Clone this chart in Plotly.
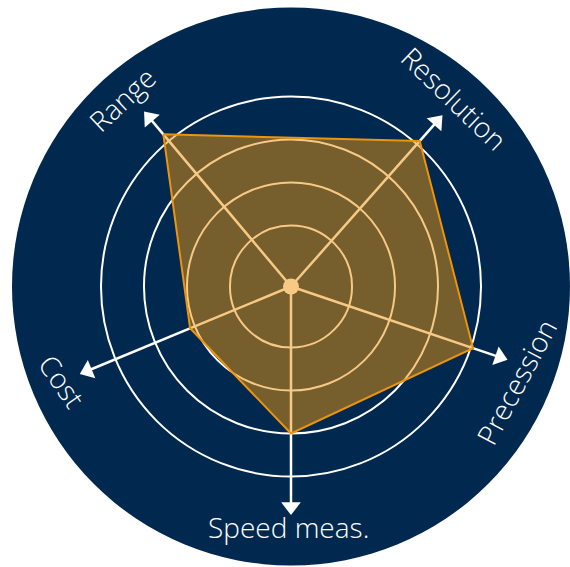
import plotly.graph_objects as go

# ---- data ----
categories = ["Range", "Resolution", "Precession", "Speed meas.", "Cost"]
scores = [4.2, 4.1, 4.05, 3.0, 2.12]
axis_angles = [320, 41.5, 108.7, 180, 247.5]   # compass angles of the axes (deg, clockwise from top)
ring_levels = [1, 2, 3, 4]
arrow_len = 4.7

NAVY = "#01284E"
ORANGE = "#EE930C"
FILL = "rgba(238,147,12,0.5)"
R_MIN, R_MAX = -0.42, 6.07

fig = go.Figure()

# spokes
sr, st = [], []
for a in axis_angles:
    sr += [R_MIN, arrow_len, None]
    st += [a, a, None]
fig.add_trace(go.Scatterpolar(r=sr, theta=st, mode="lines",
                              line=dict(color="white", width=2.5),
                              hoverinfo="skip", showlegend=False))
# arrowheads
fig.add_trace(go.Scatterpolar(r=[arrow_len] * len(axis_angles), theta=axis_angles,
                              mode="markers",
                              marker=dict(symbol="triangle-up", size=17, color="white",
                                          angle=axis_angles, line=dict(width=0)),
                              hoverinfo="skip", showlegend=False))
# centre dot
fig.add_trace(go.Scatterpolar(r=[R_MIN], theta=[0], mode="markers",
                              marker=dict(size=16, color="white"),
                              hoverinfo="skip", showlegend=False))
# data polygon
fig.add_trace(go.Scatterpolar(r=scores + scores[:1], theta=axis_angles + axis_angles[:1],
                              mode="lines", fill="toself", fillcolor=FILL,
                              line=dict(color=ORANGE, width=2),
                              text=categories + categories[:1],
                              hoverinfo="text+r", showlegend=False))

W, H = 570, 567
cx, cy, R = 291, 286.5, 279
fig.update_layout(
    width=W, height=H,
    margin=dict(l=0, r=0, t=0, b=0),
    paper_bgcolor="white",
    dragmode=False,
    polar=dict(
        domain=dict(x=[(cx - R) / W, min(1, (cx + R) / W)],
                    y=[max(0, 1 - (cy + R) / H), 1 - (cy - R) / H]),
        bgcolor=NAVY,
        radialaxis=dict(range=[R_MIN, R_MAX], tickvals=ring_levels, showticklabels=False,
                        ticks="", showline=False, gridcolor="white", gridwidth=2),
        angularaxis=dict(direction="clockwise", rotation=90, showgrid=False,
                         showticklabels=False, ticks="", showline=False),
    ),
)

label_font = dict(family="Open Sans", size=28, color="white", weight=300)
labels = [
    ("Range", 122, 99, -43),
    ("Resolution", 454, 98, 44),
    ("Precession", 516, 382, -62),
    ("Speed meas.", 288, 527, 0),
    ("Cost", 62, 381, 55),
]
for txt, x, y, ang in labels:
    fig.add_annotation(text=txt, x=x / W, y=1 - y / H, xref="paper", yref="paper",
                       showarrow=False, textangle=ang, font=label_font,
                       xanchor="center", yanchor="middle")

fig.write_html("out.html")
